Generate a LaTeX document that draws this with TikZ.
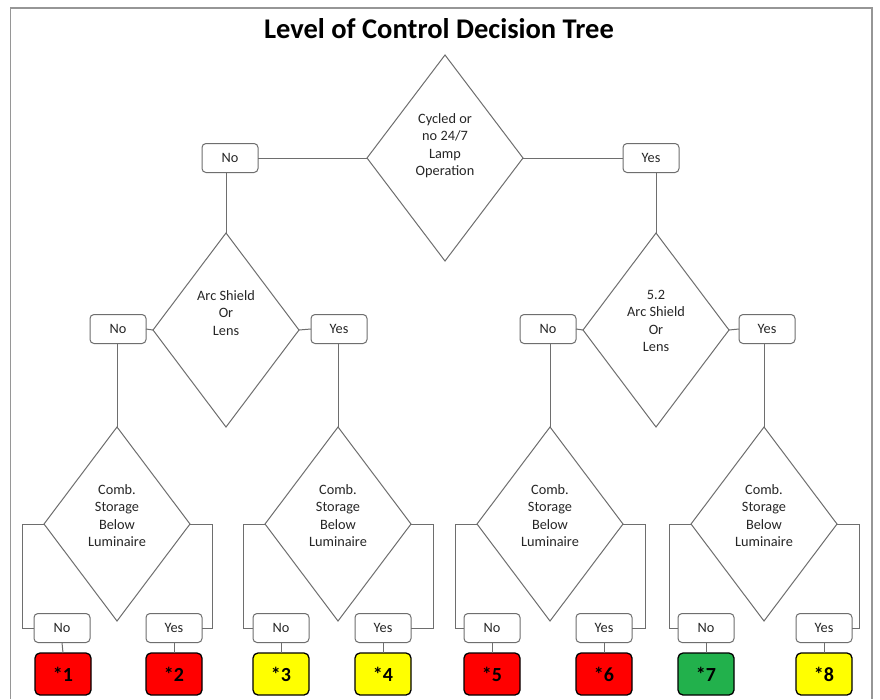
\documentclass[tikz,border=0pt]{standalone}
\usepackage{fontspec}
\setmainfont{Carlito}
\usetikzlibrary{calc,shapes.geometric}
\definecolor{linegray}{RGB}{110,110,110}
\definecolor{framegray}{RGB}{150,150,150}
\definecolor{resred}{RGB}{255,0,0}
\definecolor{resyellow}{RGB}{255,255,0}
\definecolor{resgreen}{RGB}{34,177,76}
\tikzset{
	question/.style={draw=linegray, line width=1pt, shape=diamond, inner sep=0pt, outer sep=0pt, minimum width=146pt, minimum height=194pt},
	qtext/.style={anchor=north, inner sep=0pt, align=center, font=\fontsize{14.3}{17.5}\selectfont, text=black!85},
	answer/.style={draw=linegray, line width=1pt, rounded corners=4pt, minimum width=56pt, minimum height=29pt, inner sep=0pt, outer sep=0pt, font=\fontsize{14.3}{17.5}\selectfont, text=black!85},
	result/.style={draw=black, line width=1.3pt, rounded corners=5pt, minimum width=56pt, minimum height=42pt, inner sep=0pt, outer sep=0pt, font=\fontsize{20}{24}\bfseries},
	link/.style={draw=linegray, line width=1pt}
}

\begin{document}
\begin{tikzpicture}[x=1pt, y=-1pt]
			%%%%% START %%%%%
			
			\useasboundingbox[fill=white] (0, 0) rectangle (880, 699);
			\draw[framegray, line width=1.2pt] (10.5, 699) -- (10.5, 8) -- (872, 8) -- (872, 699);
			
			\node[font=\fontsize{28.5}{34}\bfseries] (title) at (439, 29) {Level of Control Decision Tree};
			
			% first question
			\node[question, minimum width=156pt, minimum height=206pt] (lamp) at (445, 158) {};
			\node[qtext] (lampT) at ([yshift=-58pt]lamp.north) {Cycled or\\no 24/7\\Lamp\\Operation};
			\node[answer] (lampNo) at (230, 158) {No};
			\node[answer] (lampYes) at (651, 158) {Yes};
			
			% arc shield questions
			\node[question] (shieldA) at (226, 330) {};
			\node[qtext] (shieldAT) at ([yshift=-57pt]shieldA.north) {Arc Shield\\Or\\Lens};
			\node[question] (shieldB) at (656, 330) {};
			\node[qtext] (shieldBT) at ([yshift=-57pt]shieldB.north) {5.2\\Arc Shield\\Or\\Lens};
			\node[answer] (shieldANo) at (118, 329) {No};
			\node[answer] (shieldAYes) at (339, 329) {Yes};
			\node[answer] (shieldBNo) at (548, 329) {No};
			\node[answer] (shieldBYes) at (767, 329) {Yes};
			
			% storage questions
			\node[question] (storA) at (117, 524) {};
			\node[question] (storB) at (338, 524) {};
			\node[question] (storC) at (550, 524) {};
			\node[question] (storD) at (764, 524) {};
			\node[qtext] (storAT) at ([yshift=-57pt]storA.north) {Comb.\\Storage\\Below\\Luminaire};
			\node[qtext] (storBT) at ([yshift=-57pt]storB.north) {Comb.\\Storage\\Below\\Luminaire};
			\node[qtext] (storCT) at ([yshift=-57pt]storC.north) {Comb.\\Storage\\Below\\Luminaire};
			\node[qtext] (storDT) at ([yshift=-57pt]storD.north) {Comb.\\Storage\\Below\\Luminaire};
			
			\node[answer] (storANo) at (62, 628) {No};
			\node[answer] (storAYes) at (174, 628) {Yes};
			\node[answer] (storBNo) at (281, 628) {No};
			\node[answer] (storBYes) at (383, 628) {Yes};
			\node[answer] (storCNo) at (492, 628) {No};
			\node[answer] (storCYes) at (604, 628) {Yes};
			\node[answer] (storDNo) at (706, 628) {No};
			\node[answer] (storDYes) at (824, 628) {Yes};
			
			% levels of control
			\node[result, fill=resred] (lev1) at (63, 674) {*1};
			\node[result, fill=resred] (lev2) at (174, 674) {*2};
			\node[result, fill=resyellow] (lev3) at (281, 674) {*3};
			\node[result, fill=resyellow] (lev4) at (383, 674) {*4};
			\node[result, fill=resred] (lev5) at (492, 674) {*5};
			\node[result, fill=resred] (lev6) at (604, 674) {*6};
			\node[result, fill=resgreen] (lev7) at (706, 674) {*7};
			\node[result, fill=resyellow] (lev8) at (824, 674) {*8};
			
			% connectors
			\draw[link] (lamp.west) -- (lampNo.east);
			\draw[link] (lamp.east) -- (lampYes.west);
			\draw[link] (lampNo.south -| shieldA.north) -- (shieldA.north);
			\draw[link] (lampYes.south -| shieldB.north) -- (shieldB.north);
			
			\draw[link] (shieldA.west) -- (shieldANo.east);
			\draw[link] (shieldA.east) -- (shieldAYes.west);
			\draw[link] (shieldB.west) -- (shieldBNo.east);
			\draw[link] (shieldB.east) -- (shieldBYes.west);
			\draw[link] (shieldANo.south -| storA.north) -- (storA.north);
			\draw[link] (shieldAYes.south -| storB.north) -- (storB.north);
			\draw[link] (shieldBNo.south -| storC.north) -- (storC.north);
			\draw[link] (shieldBYes.south -| storD.north) -- (storD.north);
			
			\draw[link] (storA.west) -- ++(-22, 0) |- (storANo.west);
			\draw[link] (storA.east) -- ++(22, 0) |- (storAYes.east);
			\draw[link] (storB.west) -- ++(-22, 0) |- (storBNo.west);
			\draw[link] (storB.east) -- ++(22, 0) |- (storBYes.east);
			\draw[link] (storC.west) -- ++(-22, 0) |- (storCNo.west);
			\draw[link] (storC.east) -- ++(22, 0) |- (storCYes.east);
			\draw[link] (storD.west) -- ++(-22, 0) |- (storDNo.west);
			\draw[link] (storD.east) -- ++(22, 0) |- (storDYes.east);
			
			\draw[link] (storANo.south) -- (lev1.north);
			\draw[link] (storAYes.south) -- (lev2.north);
			\draw[link] (storBNo.south) -- (lev3.north);
			\draw[link] (storBYes.south) -- (lev4.north);
			\draw[link] (storCNo.south) -- (lev5.north);
			\draw[link] (storCYes.south) -- (lev6.north);
			\draw[link] (storDNo.south) -- (lev7.north);
			\draw[link] (storDYes.south) -- (lev8.north);
			
			%%%%% END %%%%%
\end{tikzpicture}
\end{document}
